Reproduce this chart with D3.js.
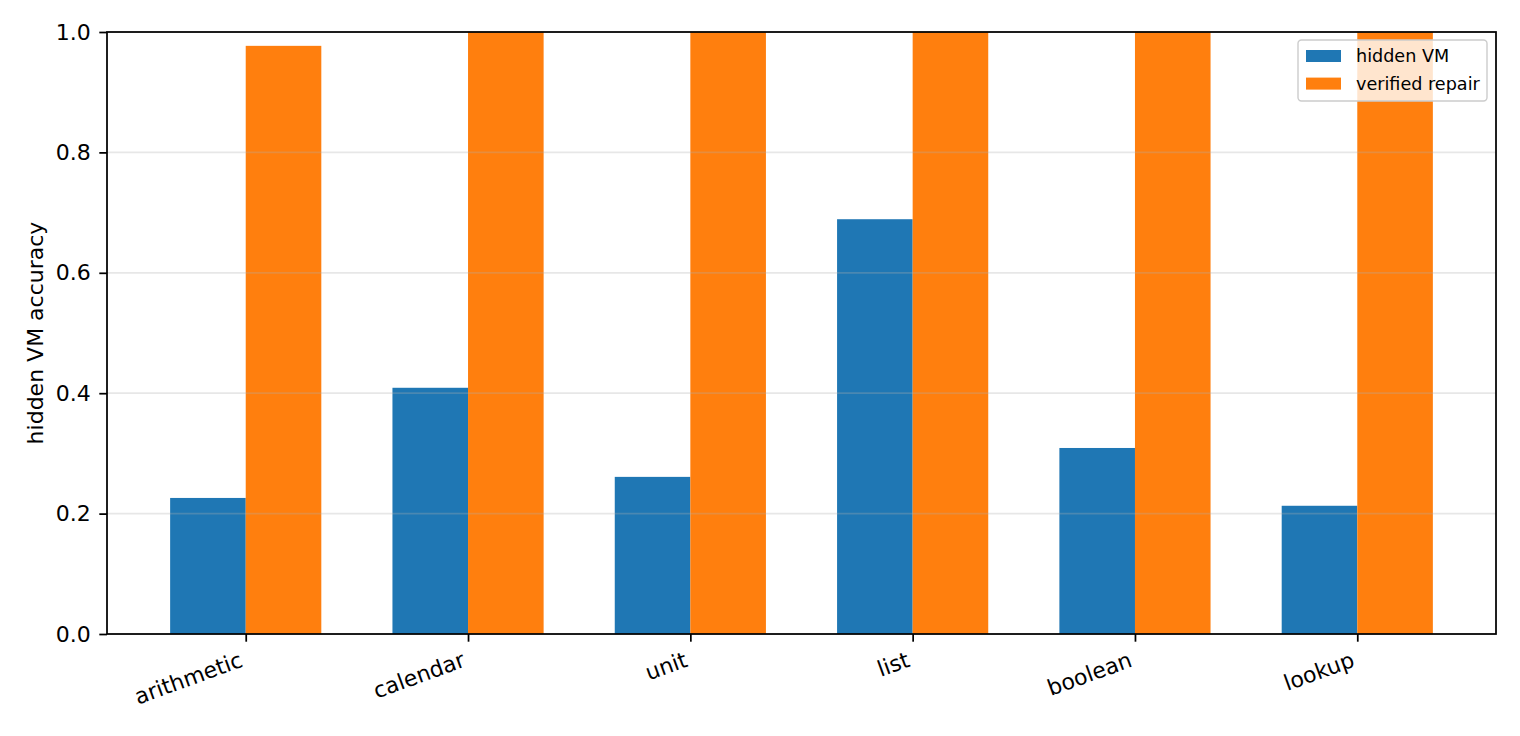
<!DOCTYPE html>
<html>
<head>
<meta charset="utf-8">
<script src="https://cdn.jsdelivr.net/npm/d3@7"></script>
<style>
  body { margin: 0; background: #fff; }
  svg text { font-family: "DejaVu Sans", sans-serif; fill: #000; }
</style>
</head>
<body>
<div id="chart"></div>
<script>
// data
const categories = ["arithmetic", "calendar", "unit", "list", "boolean", "lookup"];
const hiddenVM = [0.226, 0.409, 0.261, 0.689, 0.309, 0.213];
const verifiedRepair = [0.977, 1.0, 1.0, 1.0, 1.0, 1.0];
const seriesNames = ["hidden VM", "verified repair"];
const yTicks = [0.0, 0.2, 0.4, 0.6, 0.8, 1.0];

const W = 1520, H = 736;
const plot = { left: 107, right: 1496, top: 32, bottom: 634 };
const colors = ["#1f77b4", "#ff7f0e"];
const barW = 0.34;

const svg = d3.select("#chart").append("svg")
    .attr("width", W)
    .attr("height", H);

// scales (matplotlib-like: category index on a linear axis)
const x = d3.scaleLinear().domain([-0.624, categories.length - 1 + 0.624]).range([plot.left, plot.right]);
const y = d3.scaleLinear().domain([0, 1]).range([plot.bottom, plot.top]);

// bars
const series = [hiddenVM, verifiedRepair];
series.forEach((vals, s) => {
    svg.append("g").selectAll("rect")
        .data(vals)
        .enter().append("rect")
        .attr("x", (d, i) => x(i + (s === 0 ? -barW : 0)))
        .attr("width", x(barW) - x(0))
        .attr("y", d => y(d))
        .attr("height", d => y(0) - y(d))
        .attr("fill", colors[s]);
});

// horizontal grid on top of bars
svg.append("g").selectAll("line")
    .data(yTicks)
    .enter().append("line")
    .attr("x1", plot.left).attr("x2", plot.right)
    .attr("y1", d => y(d)).attr("y2", d => y(d))
    .attr("stroke", "#b0b0b0")
    .attr("stroke-opacity", 0.3)
    .attr("stroke-width", 1.7);

// y axis
const yAxis = svg.append("g")
    .attr("transform", "translate(" + plot.left + ",0)")
    .call(d3.axisLeft(y).tickValues(yTicks).tickFormat(d3.format(".1f")).tickSize(7.7).tickPadding(8.5));
yAxis.select(".domain").remove();
yAxis.selectAll("line").attr("stroke", "#000").attr("stroke-width", 1.75);
yAxis.selectAll("text").style("font-size", "22px").attr("fill", "#000");

// x axis
const xAxis = svg.append("g")
    .attr("transform", "translate(0," + plot.bottom + ")")
    .call(d3.axisBottom(x).tickValues(d3.range(categories.length)).tickFormat(i => categories[i]).tickSize(7.7));
xAxis.select(".domain").remove();
xAxis.selectAll("line").attr("stroke", "#000").attr("stroke-width", 1.75);
xAxis.selectAll("text")
    .style("font-size", "22px")
    .attr("fill", "#000")
    .attr("text-anchor", "end")
    .attr("x", 0).attr("y", 0).attr("dy", 0)
    .attr("transform", "translate(-2,32) rotate(-20)");

// frame
svg.append("rect")
    .attr("x", plot.left).attr("y", plot.top)
    .attr("width", plot.right - plot.left)
    .attr("height", plot.bottom - plot.top)
    .attr("fill", "none")
    .attr("stroke", "#000")
    .attr("stroke-width", 1.75);

// y label
svg.append("text")
    .attr("transform", "translate(43," + ((plot.top + plot.bottom) / 2) + ") rotate(-90)")
    .attr("text-anchor", "middle")
    .style("font-size", "22px")
    .text("hidden VM accuracy");

// legend
const legend = svg.append("g").attr("transform", "translate(1298,40)");
legend.append("rect")
    .attr("width", 189).attr("height", 61)
    .attr("rx", 3.5)
    .attr("fill", "#fff").attr("fill-opacity", 0.8)
    .attr("stroke", "#cccccc").attr("stroke-width", 1.4);
seriesNames.forEach((name, i) => {
    legend.append("rect")
        .attr("x", 8).attr("y", 10 + i * 27.6)
        .attr("width", 35).attr("height", 12)
        .attr("fill", colors[i]);
    legend.append("text")
        .attr("x", 58).attr("y", 16 + i * 27.6)
        .attr("dy", "0.35em")
        .style("font-size", "17.6px")
        .text(name);
});
</script>
</body>
</html>
